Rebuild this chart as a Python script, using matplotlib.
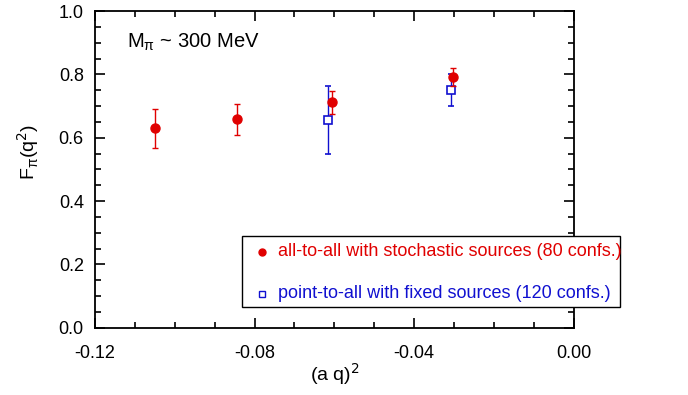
import numpy as np
import matplotlib.pyplot as plt
from matplotlib.ticker import MultipleLocator
from matplotlib.patches import Rectangle

plt.rcParams['font.family'] = ['Liberation Sans', 'DejaVu Sans']

# all-to-all with stochastic sources (80 confs.)
x_all = [-0.1050, -0.0845, -0.0605, -0.0302]
f_all = [0.630, 0.658, 0.712, 0.793]
e_all = [0.062, 0.050, 0.037, 0.028]

# point-to-all with fixed sources (120 confs.)
x_pt = [-0.0616, -0.0307]
f_pt = [0.657, 0.750]
e_pt = [0.107, 0.050]

red = '#e00000'
blue = '#1010d0'

fig = plt.figure(figsize=(6.88, 3.95), dpi=100)
ax = fig.add_axes([0.138, 0.170, 0.696, 0.802])

ax.errorbar(x_pt, f_pt, yerr=e_pt, fmt='s', ms=6, mfc='white', mec=blue,
            mew=1.2, ecolor=blue, elinewidth=1.0, capsize=2, capthick=1.0, zorder=3)
ax.errorbar(x_all, f_all, yerr=e_all, fmt='o', ms=6.5, color=red,
            ecolor=red, elinewidth=1.0, capsize=2, capthick=1.0, zorder=4)

ax.set_xlim(-0.12, 0.0)
ax.set_ylim(0.0, 1.0)
ax.xaxis.set_major_locator(MultipleLocator(0.04))
ax.xaxis.set_minor_locator(MultipleLocator(0.01))
ax.yaxis.set_major_locator(MultipleLocator(0.2))
ax.yaxis.set_minor_locator(MultipleLocator(0.05))
ax.xaxis.set_major_formatter(plt.FuncFormatter(lambda v, p: '%.2f' % v))
ax.yaxis.set_major_formatter(plt.FuncFormatter(lambda v, p: '%.1f' % v))
ax.tick_params(which='both', direction='in', top=True, right=True, labelsize=13, width=1.2)
ax.tick_params(which='major', length=7)
ax.tick_params(axis='x', which='major', pad=12)
ax.tick_params(axis='y', which='major', pad=8)
ax.tick_params(which='minor', length=4)
for s in ax.spines.values():
    s.set_linewidth(1.3)

ax.set_xlabel(r'(a q)$^2$', fontsize=14)
ax.xaxis.set_label_coords(0.5, -0.105)
ax.set_ylabel(r'F$_{\mathregular{\pi}}$(q$^2$)', fontsize=14)
ax.yaxis.set_label_coords(-0.113, 0.555)

ax.text(0.066, 0.885, r'M$_{\mathregular{\pi}}$ ~ 300 MeV', transform=ax.transAxes, fontsize=14.5)

# legend box, extends past the right spine
fig.patches.append(Rectangle((242 / 688, 1 - 307 / 395), 378 / 688, 71 / 395,
                             transform=fig.transFigure, facecolor='white',
                             edgecolor='black', linewidth=1.0, zorder=5))
fig.lines.append(plt.Line2D([262 / 688], [1 - 252 / 395], transform=fig.transFigure,
                            marker='o', ms=5, color=red, zorder=6))
fig.lines.append(plt.Line2D([262 / 688], [1 - 294 / 395], transform=fig.transFigure,
                            marker='s', ms=4.5, mfc='white', mec=blue, mew=1.0, zorder=6))
fig.text(278 / 688, 1 - 252 / 395, 'all-to-all with stochastic sources (80 confs.)',
         color=red, fontsize=13, va='center', zorder=6)
fig.text(278 / 688, 1 - 294 / 395, 'point-to-all with fixed sources (120 confs.)',
         color=blue, fontsize=13, va='center', zorder=6)

fig.savefig('out.png', dpi=100)
